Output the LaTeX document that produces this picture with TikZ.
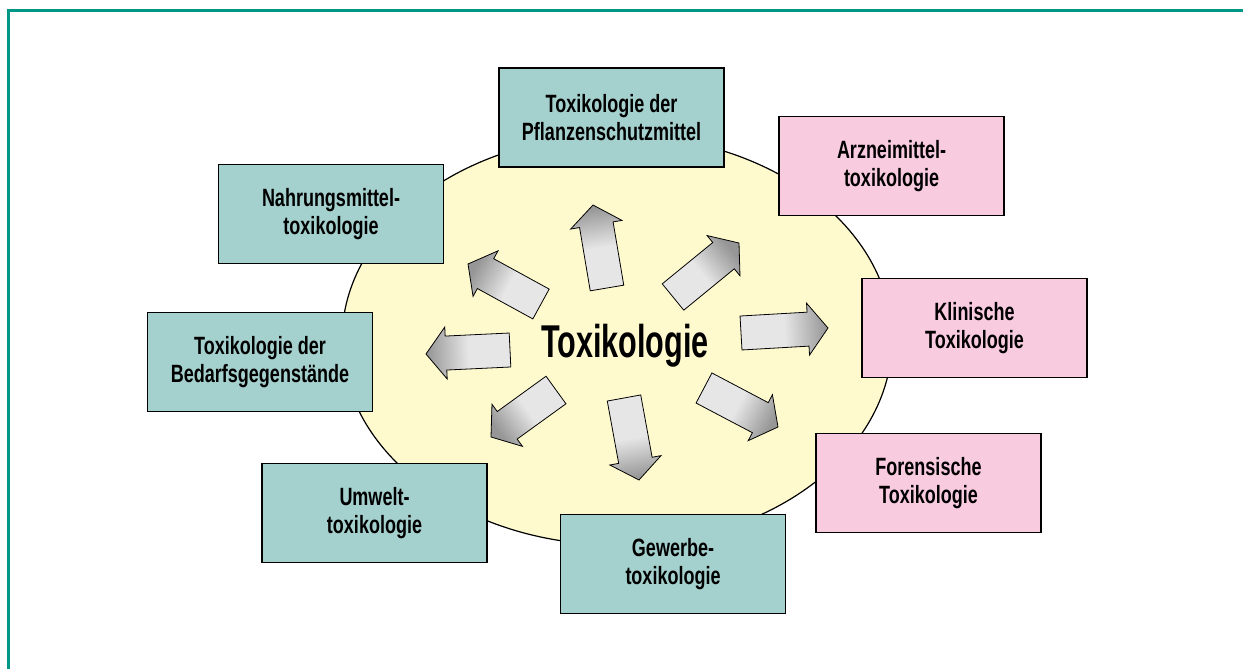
\documentclass[tikz,border=0pt]{standalone}
\usepackage{fontspec}
\setmainfont{Liberation Sans}
\newfontfamily\condfont{Liberation Sans}[FakeStretch=0.72]
\newfontfamily\titlefont{Liberation Sans}[FakeStretch=0.665]
\usetikzlibrary{calc}
\definecolor{tealbox}{RGB}{164,208,206}
\definecolor{pinkbox}{RGB}{248,203,223}
\definecolor{ellfill}{RGB}{255,250,206}
\definecolor{framecol}{RGB}{0,150,136}
\definecolor{arrlight}{RGB}{230,230,230}
\definecolor{arrdark}{RGB}{150,150,150}
\pgfdeclarehorizontalshading{arrgrad}{100bp}{color(0bp)=(arrlight); color(25bp)=(arrlight); color(50bp)=(arrlight); color(75bp)=(arrdark); color(100bp)=(arrdark)}
\tikzset{
  boxbase/.style={draw=black, line width=1.5pt, minimum width=225pt, minimum height=99pt,
    inner sep=0pt, align=center, font=\condfont\bfseries\fontsize{25}{28}\selectfont},
  tealnode/.style={boxbase, fill=tealbox},
  pinknode/.style={boxbase, fill=pinkbox},
  arrowshape/.style={draw=black, line width=0.8pt, shading=arrgrad},
}
\newcommand{\blockarrow}[4]{%
  \coordinate (#1-a) at #2;
  \coordinate (#1-b) at #3;
  \coordinate (#1-m) at ($(#1-b)!20pt!(#1-a)$);
  \shadedraw[arrowshape, shading angle=#4]
    ($(#1-a)!17pt!90:(#1-b)$) -- ($(#1-m)!17pt!90:(#1-b)$) -- ($(#1-m)!26pt!90:(#1-b)$)
    -- (#1-b) -- ($(#1-m)!26pt!-90:(#1-b)$) -- ($(#1-m)!17pt!-90:(#1-b)$)
    -- ($(#1-a)!17pt!-90:(#1-b)$) -- cycle;%
}
\begin{document}
\begin{tikzpicture}[x=1pt,y=-1pt]
\useasboundingbox (0,0) rectangle (1243,669);
% frame
\draw[framecol, line width=2.2pt] (8.5,669) -- (8.5,10.5) -- (1243,10.5);
% ellipse
\draw[fill=ellfill, line width=1.2pt] (617,340) ellipse [x radius=275, y radius=205];
% arrows
\blockarrow{a1}{(607,288)}{(593,205)}{99.6}
\blockarrow{a2}{(673,297)}{(739,243)}{39.3}
\blockarrow{a3}{(741,333)}{(828,328)}{3.3}
\blockarrow{a4}{(704,388)}{(778,427)}{-27.8}
\blockarrow{a5}{(624,398)}{(639,480)}{-79.6}
\blockarrow{a6}{(556,390)}{(491,437)}{215.9}
\blockarrow{a7}{(510,350)}{(426,354)}{182.7}
\blockarrow{a8}{(541,304)}{(468,264)}{151.3}
% title
\node[anchor=base, inner sep=0pt, font=\titlefont\bfseries\fontsize{46}{50}\selectfont] (title) at (625,357) {Toxikologie};
% boxes
\node[tealnode] (pfl) at (611.5,117.5) {Toxikologie der\\Pflanzenschutzmittel};
\node[pinknode] (arz) at (891.5,166) {Arzneimittel-\\toxikologie};
\node[pinknode] (kli) at (974.5,328) {Klinische\\Toxikologie};
\node[pinknode] (for) at (928.5,483) {Forensische\\Toxikologie};
\node[tealnode] (gew) at (673,564) {Gewerbe-\\toxikologie};
\node[tealnode] (umw) at (374.5,513) {Umwelt-\\toxikologie};
\node[tealnode] (bed) at (260,362) {Toxikologie der\\Bedarfsgegenstände};
\node[tealnode] (nah) at (331,214) {Nahrungsmittel-\\toxikologie};
\end{tikzpicture}
\end{document}
